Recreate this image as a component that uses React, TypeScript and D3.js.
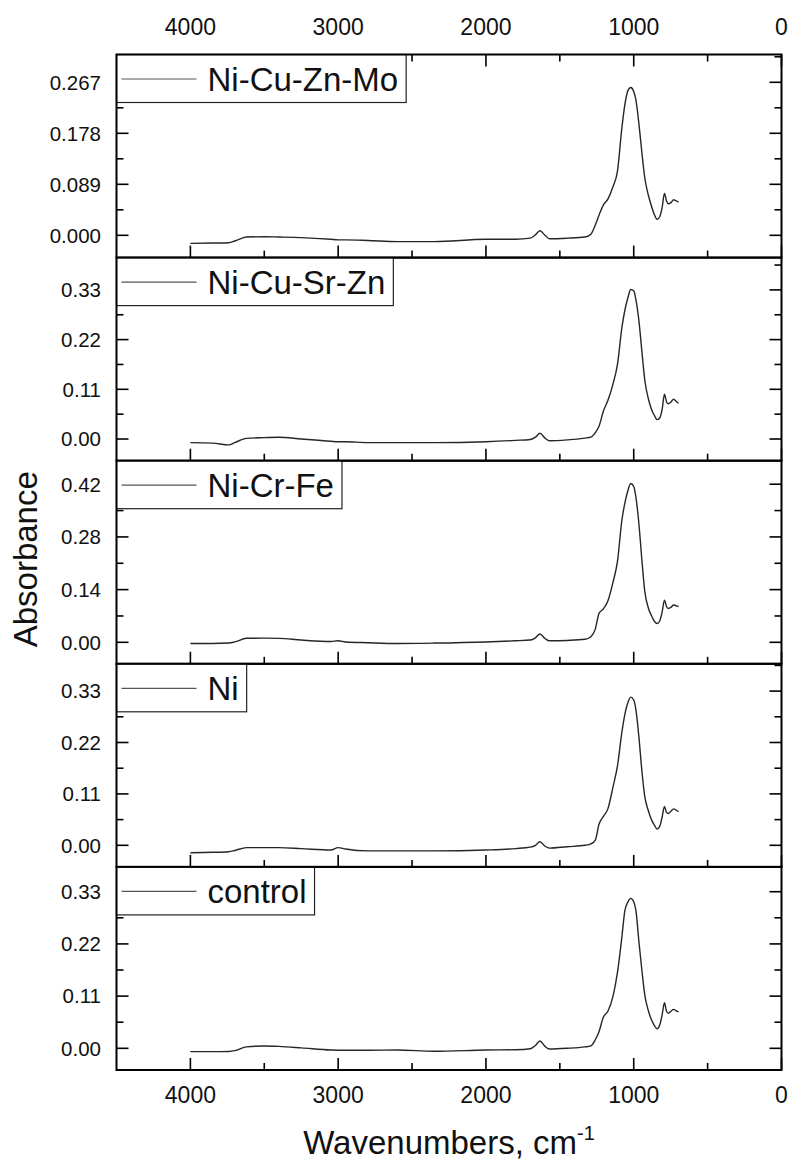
import React from "react";
import * as d3 from "d3";

// Wavenumber grid (cm-1) shared by all spectra
const WAVENUMBERS = [
  4000, 3850, 3740, 3700, 3620, 3500, 3400, 3250, 3050, 3000, 2950, 2800, 2600, 2350, 2000, 1800,
  1700, 1665, 1635, 1600, 1570, 1450, 1330, 1290, 1260, 1235, 1205, 1175, 1140, 1110, 1080, 1060,
  1040, 1020, 1000, 985, 965, 945, 925, 900, 880, 860, 842, 825, 808, 792, 778, 765, 748, 730, 712, 697,
];

// Absorbance per sample, one value per wavenumber
const NI_CU_ZN_MO = [
  -0.014, -0.0135, -0.013, -0.01, -0.003, -0.0025, -0.003, -0.004, -0.007, -0.008, -0.008, -0.009,
  -0.011, -0.011, -0.007, -0.007, -0.005, 0.001, 0.008, 0.0, -0.006, -0.005, -0.003, 0.002, 0.018,
  0.035, 0.053, 0.063, 0.085, 0.112, 0.188, 0.228, 0.252, 0.258, 0.251, 0.236, 0.195, 0.145, 0.1,
  0.069, 0.051, 0.036, 0.028, 0.032, 0.048, 0.073, 0.06, 0.055, 0.057, 0.062, 0.06, 0.058,
];
const NI_CU_SR_ZN = [
  -0.008, -0.009, -0.013, -0.008, 0.0015, 0.003, 0.004, 0.0, -0.005, -0.006, -0.006, -0.008,
  -0.008, -0.008, -0.006, -0.003, -0.001, 0.004, 0.0126, 0.002, -0.004, -0.002, 0.002, 0.004, 0.014,
  0.028, 0.062, 0.085, 0.122, 0.165, 0.247, 0.285, 0.312, 0.331, 0.328, 0.308, 0.262, 0.195, 0.13,
  0.088, 0.066, 0.052, 0.043, 0.046, 0.065, 0.099, 0.082, 0.078, 0.082, 0.088, 0.083, 0.079,
];
const NI_CR_FE = [
  -0.003, -0.003, -0.002, 0.001, 0.0106, 0.011, 0.0105, 0.006, 0.002, 0.004, 0.001, -0.001,
  -0.003, -0.002, 0.001, 0.004, 0.006, 0.012, 0.022, 0.01, 0.004, 0.005, 0.008, 0.015, 0.035,
  0.077, 0.089, 0.11, 0.16, 0.215, 0.325, 0.37, 0.402, 0.422, 0.414, 0.385, 0.315, 0.22, 0.135,
  0.09, 0.071, 0.056, 0.05, 0.056, 0.08, 0.112, 0.095, 0.09, 0.093, 0.099, 0.097, 0.095,
];
const NI = [
  -0.0158, -0.015, -0.0137, -0.011, -0.005, -0.005, -0.005, -0.007, -0.01, -0.005, -0.008, -0.012,
  -0.012, -0.012, -0.01, -0.007, -0.004, 0.0, 0.0077, -0.002, -0.006, -0.003, 0.0, 0.003, 0.011,
  0.045, 0.062, 0.078, 0.125, 0.17, 0.242, 0.28, 0.305, 0.317, 0.311, 0.29, 0.232, 0.16, 0.104,
  0.073, 0.055, 0.043, 0.035, 0.04, 0.06, 0.083, 0.07, 0.068, 0.073, 0.078, 0.075, 0.072,
];
const CONTROL = [
  -0.007, -0.007, -0.0066, -0.005, 0.003, 0.0048, 0.004, 0.001, -0.0036, -0.004, -0.004, -0.004,
  -0.0036, -0.0063, -0.0036, -0.003, -0.001, 0.006, 0.0154, 0.004, -0.0015, 0.0, 0.003, 0.005, 0.018,
  0.035, 0.066, 0.078, 0.11, 0.16, 0.235, 0.29, 0.308, 0.316, 0.309, 0.29, 0.225, 0.165, 0.112,
  0.078, 0.06, 0.048, 0.041, 0.048, 0.07, 0.096, 0.078, 0.074, 0.078, 0.082, 0.079, 0.077,
];

const SAMPLE_NAMES = ["Ni-Cu-Zn-Mo", "Ni-Cu-Sr-Zn", "Ni-Cr-Fe", "Ni", "control"];
const SAMPLE_VALUES = [NI_CU_ZN_MO, NI_CU_SR_ZN, NI_CR_FE, NI, CONTROL];
const Y_MIN = [-0.0389, -0.048, -0.0571, -0.0462, -0.0457];
const Y_MAX = [0.3155, 0.4015, 0.4825, 0.3884, 0.3823];
const Y_TICK_STEP = [0.089, 0.11, 0.14, 0.11, 0.11];
const Y_TICK_DECIMALS = [3, 2, 2, 2, 2];

const X_DOMAIN = [4500, 0];
const X_MAJOR_TICKS = [4000, 3000, 2000, 1000, 0];
const X_MINOR_TICKS = [3500, 2500, 1500, 500];

const W = 791;
const H = 1162;
const LEFT = 116.5;
const RIGHT = 781.5;
const TOP = 54.5;
const PANEL_H = 203.1;
const FONT = "'Liberation Sans', Arial, Helvetica, sans-serif";
const MAJOR_LEN = 12;
const MINOR_LEN = 7;
const LEGEND_FONT = 33;

let measureCtx: CanvasRenderingContext2D | null = null;
function textWidth(s: string, size: number) {
  if (!measureCtx) {
    const c = document.createElement("canvas");
    measureCtx = c.getContext("2d");
  }
  if (!measureCtx) return s.length * size * 0.55;
  measureCtx.font = `${size}px ${FONT}`;
  return measureCtx.measureText(s).width;
}

export default function App() {
  const x = d3.scaleLinear().domain(X_DOMAIN).range([LEFT, RIGHT]);

  const panels = SAMPLE_NAMES.map((name, i) => {
    const top = TOP + i * PANEL_H;
    const bottom = top + PANEL_H;
    const y = d3.scaleLinear().domain([Y_MIN[i], Y_MAX[i]]).range([bottom, top]);
    const step = Y_TICK_STEP[i];
    const eps = 1e-9;
    const major: number[] = [];
    for (let k = Math.ceil(Y_MIN[i] / step - eps); k * step <= Y_MAX[i] + eps; k++) major.push(k * step);
    const minor: number[] = [];
    for (let k = Math.ceil(Y_MIN[i] / step - 0.5 - eps); (k + 0.5) * step <= Y_MAX[i]; k++) {
      const v = (k + 0.5) * step;
      if (v >= Y_MIN[i]) minor.push(v);
    }
    const points = WAVENUMBERS.map((wn, j) => [wn, SAMPLE_VALUES[i][j]] as [number, number]);
    const line = d3
      .line<[number, number]>()
      .x((d) => x(d[0]))
      .y((d) => y(d[1]))
      .curve(d3.curveMonotoneX);
    const legendTextX = LEFT + 91;
    const boxW = legendTextX + textWidth(name, LEGEND_FONT) + 8 - LEFT;
    return (
      <g key={name}>
        <path d={line(points) || ""} fill="none" stroke="#262626" strokeWidth={1.4} />
        {/* bottom ticks */}
        {X_MAJOR_TICKS.map((t) => (
          <line key={"bM" + t} x1={x(t)} x2={x(t)} y1={bottom} y2={bottom - MAJOR_LEN} stroke="#000" strokeWidth={1.6} />
        ))}
        {X_MINOR_TICKS.map((t) => (
          <line key={"bm" + t} x1={x(t)} x2={x(t)} y1={bottom} y2={bottom - MINOR_LEN} stroke="#000" strokeWidth={1.6} />
        ))}
        {/* top ticks on the first panel only */}
        {i === 0 &&
          X_MAJOR_TICKS.map((t) => (
            <line key={"tM" + t} x1={x(t)} x2={x(t)} y1={top} y2={top + MAJOR_LEN} stroke="#000" strokeWidth={1.6} />
          ))}
        {i === 0 &&
          X_MINOR_TICKS.map((t) => (
            <line key={"tm" + t} x1={x(t)} x2={x(t)} y1={top} y2={top + MINOR_LEN} stroke="#000" strokeWidth={1.6} />
          ))}
        {/* y ticks on both sides */}
        {major.map((v) => (
          <g key={"yM" + v}>
            <line x1={LEFT} x2={LEFT + MAJOR_LEN} y1={y(v)} y2={y(v)} stroke="#000" strokeWidth={1.6} />
            <line x1={RIGHT} x2={RIGHT - MAJOR_LEN} y1={y(v)} y2={y(v)} stroke="#000" strokeWidth={1.6} />
            <text x={101} y={y(v)} dy="0.36em" textAnchor="end" fontSize={20.5} fill="#111">
              {v.toFixed(Y_TICK_DECIMALS[i])}
            </text>
          </g>
        ))}
        {minor.map((v) => (
          <g key={"ym" + v}>
            <line x1={LEFT} x2={LEFT + MINOR_LEN} y1={y(v)} y2={y(v)} stroke="#000" strokeWidth={1.6} />
            <line x1={RIGHT} x2={RIGHT - MINOR_LEN} y1={y(v)} y2={y(v)} stroke="#000" strokeWidth={1.6} />
          </g>
        ))}
        {/* legend */}
        <rect x={LEFT} y={top} width={boxW} height={48} fill="#fff" stroke="#222" strokeWidth={1.2} />
        <line x1={LEFT + 5} x2={LEFT + 80} y1={top + 24.5} y2={top + 24.5} stroke="#555" strokeWidth={1.2} />
        <text x={legendTextX} y={top + 36} fontSize={LEGEND_FONT} fill="#111">
          {name}
        </text>
        <rect x={LEFT} y={top} width={RIGHT - LEFT} height={PANEL_H} fill="none" stroke="#000" strokeWidth={2} />
      </g>
    );
  });

  const midY = TOP + (SAMPLE_NAMES.length * PANEL_H) / 2;

  return (
    <svg
      width={W}
      height={H}
      viewBox={`0 0 ${W} ${H}`}
      style={{ position: "absolute", left: 0, top: 0, background: "#fff" }}
      fontFamily={FONT}
    >
      <rect x={0} y={0} width={W} height={H} fill="#fff" />
      {panels}
      {X_MAJOR_TICKS.map((t) => (
        <g key={"xl" + t}>
          <text x={x(t)} y={35} textAnchor="middle" fontSize={23} fill="#111">
            {t}
          </text>
          <text x={x(t)} y={1103} textAnchor="middle" fontSize={23} fill="#111">
            {t}
          </text>
        </g>
      ))}
      <text x={(LEFT + RIGHT) / 2} y={1154} textAnchor="middle" fontSize={33} fill="#111">
        Wavenumbers, cm
        <tspan fontSize={20} dy={-14}>
          -1
        </tspan>
      </text>
      <text
        transform={`translate(37, ${midY - 3}) rotate(-90)`}
        textAnchor="middle"
        fontSize={33}
        fill="#111"
      >
        Absorbance
      </text>
    </svg>
  );
}
